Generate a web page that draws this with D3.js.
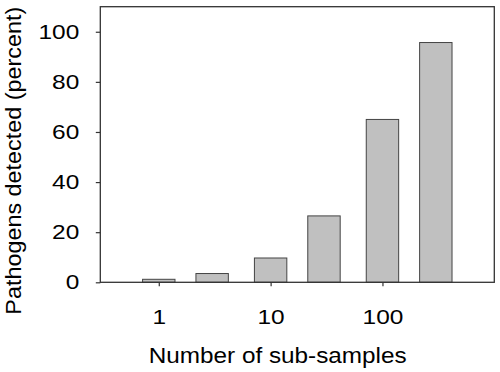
<!DOCTYPE html>
<html>
<head>
<meta charset="utf-8">
<script src="https://cdn.jsdelivr.net/npm/d3@7/dist/d3.min.js"></script>
<style>
  html, body { margin: 0; padding: 0; background: #fff; }
  svg { display: block; font-family: Arial, "Liberation Sans", Helvetica, sans-serif; }
</style>
</head>
<body>
<svg id="chart" width="500" height="372"></svg>
<script>
// Data
const subSamples = [1, 3, 10, 30, 100, 300];
const detected = [1.2, 3.5, 9.7, 26.5, 65.0, 95.7];
const xTickValues = [1, 10, 100];
const xTickLabels = ["1", "10", "100"];
const yTickValues = [0, 20, 40, 60, 80, 100];
const xTitle = "Number of sub-samples";
const yTitle = "Pathogens detected (percent)";

const W = 500, H = 372;
const m = { left: 100.3, top: 6.7, right: 5.7, bottom: 89.7 };
const pw = W - m.left - m.right, ph = H - m.top - m.bottom;

const svg = d3.select("#chart");
const g = svg.append("g").attr("transform", `translate(${m.left},${m.top})`);

const x = d3.scaleLog().domain([0.3, 1000]).range([0, pw]);
const y = d3.scaleLinear().domain([0, 110]).range([ph, 0]);

const axisColor = "#333";
const barW = 32.4;
const tickFs = 20.5;
const digitAdv = 13.6; // stretched digit advance

// bars
g.selectAll("rect.bar").data(subSamples).enter().append("rect")
  .attr("class", "bar")
  .attr("x", (d) => x(d) - barW / 2)
  .attr("width", barW)
  .attr("y", (d, i) => y(detected[i]))
  .attr("height", (d, i) => y(0) - y(detected[i]))
  .attr("fill", "#c0c0c0")
  .attr("stroke", "#444")
  .attr("stroke-width", 1);

// frame
g.append("rect").attr("x", 0).attr("y", 0).attr("width", pw).attr("height", ph)
  .attr("fill", "none").attr("stroke", axisColor).attr("stroke-width", 1.3);

function styleTickText(sel) {
  sel.attr("font-size", tickFs + "px").attr("fill", "#000")
    .attr("font-family", "Arial, 'Liberation Sans', sans-serif")
    .attr("lengthAdjust", "spacingAndGlyphs")
    .attr("textLength", function () { return this.textContent.length * digitAdv; });
}

// y axis
const yAxis = g.append("g").call(
  d3.axisLeft(y).tickValues(yTickValues).tickSize(4.5).tickPadding(16.5).tickFormat(d3.format("d"))
);
yAxis.select(".domain").remove();
yAxis.selectAll("line").attr("stroke", axisColor).attr("stroke-width", 1.2);
yAxis.selectAll("text").call(styleTickText);

// x axis
const xAxis = g.append("g").attr("transform", `translate(0,${ph})`).call(
  d3.axisBottom(x).tickValues(xTickValues).tickSize(4).tickPadding(23)
    .tickFormat((d, i) => xTickLabels[i])
);
xAxis.select(".domain").remove();
xAxis.selectAll("line").attr("stroke", axisColor).attr("stroke-width", 1.2);
xAxis.selectAll("text").call(styleTickText);

// titles
svg.append("text")
  .attr("x", 277.7).attr("y", 362.7)
  .attr("text-anchor", "middle")
  .attr("font-size", "22px").attr("fill", "#000")
  .attr("lengthAdjust", "spacingAndGlyphs").attr("textLength", 258)
  .text(xTitle);

svg.append("text")
  .attr("transform", "translate(21,160.7) rotate(-90)")
  .attr("text-anchor", "middle")
  .attr("font-size", "21.5px").attr("fill", "#000")
  .attr("lengthAdjust", "spacingAndGlyphs").attr("textLength", 308)
  .text(yTitle);
</script>
</body>
</html>
